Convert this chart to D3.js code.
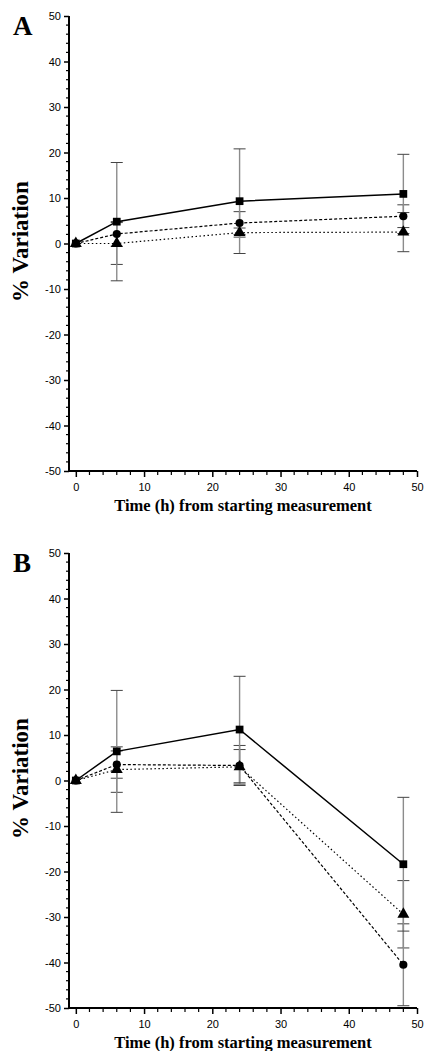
<!DOCTYPE html>
<html>
<head>
<meta charset="utf-8">
<script src="https://cdn.jsdelivr.net/npm/d3@7"></script>
<style>
  body { margin: 0; background: #fff; }
  svg { display: block; }
</style>
</head>
<body>
<script>
// time points (h)
const times = [0, 6, 24, 48];

// panel A, mean % variation and SD
const aSquare = [0, 4.8, 9.3, 10.9];
const aSquareSD = [0, 13.0, 11.5, 8.7];
const aCircle = [0, 2.1, 4.5, 6.0];
const aCircleSD = [0, 2.7, 2.5, 2.5];
const aTriangle = [0, 0.0, 2.4, 2.5];
const aTriangleSD = [0, 4.6, 1.0, 4.3];

// panel B
const bSquare = [0, 6.4, 11.2, -18.4];
const bSquareSD = [0, 13.4, 11.7, 14.7];
const bCircle = [0, 3.5, 3.3, -40.5];
const bCircleSD = [0, 3.0, 4.4, 9.0];
const bTriangle = [0, 2.4, 3.0, -29.4];
const bTriangleSD = [0, 5.0, 3.8, 7.4];

const xTicks = [0, 10, 20, 30, 40, 50];
const yTicks = [-50, -40, -30, -20, -10, 0, 10, 20, 30, 40, 50];

const W = 427, H = 1051;
const plot_left = 69, plot_right = 417;
const panel_h = 455; // 100 units of % variation
const serif = "'Liberation Serif', 'Times New Roman', serif";
const sans = "'Liberation Sans', Arial, sans-serif";

const svg = d3.select("body").append("svg")
    .attr("width", W)
    .attr("height", H);

const x = d3.scaleLinear().domain([-1, 50]).range([plot_left, plot_right]);

function series(vals, sds, shape, dash) {
    return times.map((t, i) => ({t: t, v: vals[i], sd: sds[i], shape: shape, dash: dash}));
}

function drawPanel(letter, top, sets) {
    const y = d3.scaleLinear().domain([-50, 50]).range([top + panel_h, top]);
    const g = svg.append("g");

    // minor ticks every 2 units
    const yMinor = d3.range(-50, 51, 2).filter(v => v % 10 !== 0);
    g.selectAll(".ym").data(yMinor).enter().append("line")
        .attr("x1", plot_left - 3).attr("x2", plot_left)
        .attr("y1", d => y(d)).attr("y2", d => y(d))
        .attr("stroke", "#000").attr("stroke-width", 1.2);
    const xMinor = d3.range(0, 51, 2).filter(v => v % 10 !== 0);
    g.selectAll(".xm").data(xMinor).enter().append("line")
        .attr("x1", d => x(d)).attr("x2", d => x(d))
        .attr("y1", top + panel_h).attr("y2", top + panel_h + 4)
        .attr("stroke", "#000").attr("stroke-width", 1.2);

    // y axis (plain hyphen for negatives, like the original)
    const yAxis = d3.axisLeft(y).tickValues(yTicks).tickSize(5).tickPadding(3)
        .tickFormat(d => String(d));
    const ya = g.append("g").attr("transform", `translate(${plot_left},0)`).call(yAxis);
    ya.select(".domain").attr("stroke-width", 2).attr("d", `M0,${y(50)}V${y(-50)}`);
    ya.selectAll(".tick line").attr("stroke-width", 1.5);
    ya.selectAll("text").attr("font-family", sans).attr("font-size", 11).attr("fill", "#000");

    // x axis
    const xAxis = d3.axisBottom(x).tickValues(xTicks).tickSize(6).tickPadding(6);
    const xa = g.append("g").attr("transform", `translate(0,${top + panel_h})`).call(xAxis);
    xa.select(".domain").attr("stroke-width", 2).attr("d", `M${plot_left},0H${x(50)}`);
    xa.selectAll(".tick line").attr("stroke-width", 1.5);
    xa.selectAll("text").attr("font-family", sans).attr("font-size", 11).attr("fill", "#000");

    // titles
    g.append("text")
        .attr("x", (plot_left + plot_right) / 2)
        .attr("y", top + panel_h + 40)
        .attr("text-anchor", "middle")
        .attr("font-family", serif).attr("font-weight", "bold").attr("font-size", 16.5)
        .text("Time (h) from starting measurement");

    g.append("text")
        .attr("transform", `translate(28,${top + panel_h / 2 - 2}) rotate(-90)`)
        .attr("text-anchor", "middle")
        .attr("font-family", serif).attr("font-weight", "bold").attr("font-size", 23)
        .text("% Variation");

    g.append("text")
        .attr("x", 13).attr("y", top + 19)
        .attr("font-family", serif).attr("font-weight", "bold").attr("font-size", 27)
        .text(letter);

    // error bars
    sets.forEach(s => {
        const eb = s.filter(d => d.sd > 0);
        g.selectAll(null).data(eb).enter().append("line")
            .attr("x1", d => x(d.t)).attr("x2", d => x(d.t))
            .attr("y1", d => y(d.v + d.sd)).attr("y2", d => y(d.v - d.sd))
            .attr("stroke", "#8c8c8c").attr("stroke-width", 1.4);
        [1, -1].forEach(sign => {
            g.selectAll(null).data(eb).enter().append("line")
                .attr("x1", d => x(d.t) - 6).attr("x2", d => x(d.t) + 6)
                .attr("y1", d => y(d.v + sign * d.sd)).attr("y2", d => y(d.v + sign * d.sd))
                .attr("stroke", "#444").attr("stroke-width", 1);
        });
    });

    // lines
    const line = d3.line().x(d => x(d.t)).y(d => y(d.v));
    sets.forEach(s => {
        g.append("path").datum(s)
            .attr("d", line)
            .attr("fill", "none")
            .attr("stroke", "#000")
            .attr("stroke-width", s[0].dash ? 1.2 : 1.5)
            .attr("stroke-dasharray", s[0].dash);
    });

    // markers
    const symSize = {square: 60, circle: 52, triangle: 62};
    const symType = {square: d3.symbolSquare, circle: d3.symbolCircle, triangle: d3.symbolTriangle};
    sets.forEach(s => {
        g.selectAll(null).data(s).enter().append("path")
            .attr("transform", d => `translate(${x(d.t)},${y(d.v)})`)
            .attr("d", d => d3.symbol().type(symType[d.shape]).size(symSize[d.shape])())
            .attr("fill", "#000");
    });
}

drawPanel("A", 16, [
    series(aTriangle, aTriangleSD, "triangle", "1.5,2.5"),
    series(aCircle, aCircleSD, "circle", "3,2"),
    series(aSquare, aSquareSD, "square", null)
]);

drawPanel("B", 553, [
    series(bTriangle, bTriangleSD, "triangle", "1.5,2.5"),
    series(bCircle, bCircleSD, "circle", "3,2"),
    series(bSquare, bSquareSD, "square", null)
]);
</script>
</body>
</html>
